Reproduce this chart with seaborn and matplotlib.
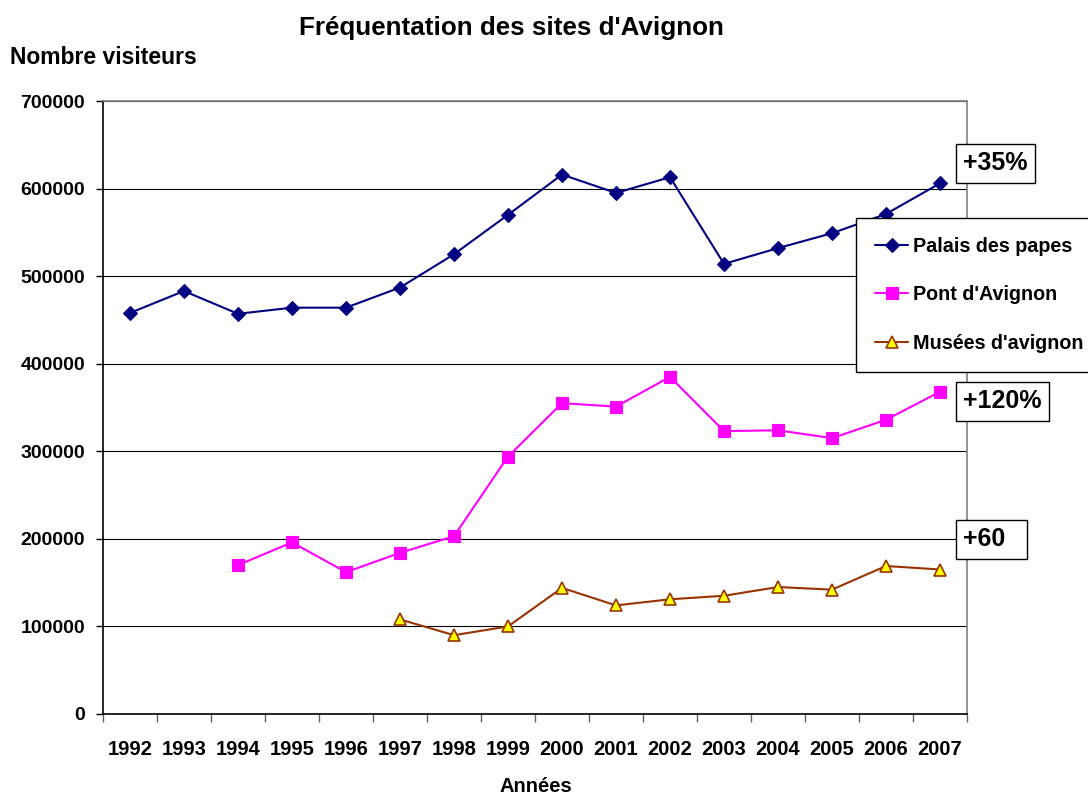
import seaborn as sns
import pandas as pd
import numpy as np
import matplotlib.pyplot as plt

years = list(range(1992, 2008))
palais = [458000, 483000, 457000, 464000, 464000, 487000, 525000, 570000,
          616000, 595000, 613000, 514000, 532000, 549000, 571000, 606000]
pont = [np.nan, np.nan, 170000, 196000, 162000, 184000, 203000, 294000,
        355000, 351000, 385000, 323000, 324000, 315000, 336000, 368000]
musees = [np.nan, np.nan, np.nan, np.nan, np.nan, 108000, 90000, 100000,
          144000, 124000, 131000, 135000, 145000, 142000, 169000, 165000]
series_names = ["Palais des papes", "Pont d'Avignon", "Musées d'avignon"]
growth_labels = ["+35%", "+120%", "+60  "]

df = pd.DataFrame({"Année": years, series_names[0]: palais,
                   series_names[1]: pont, series_names[2]: musees})

sns.set_style("white")
plt.rcParams['font.family'] = ['Liberation Sans', 'DejaVu Sans']
plt.rcParams['font.weight'] = 'bold'
plt.rcParams['text.color'] = 'black'
plt.rcParams['xtick.color'] = 'black'
plt.rcParams['ytick.color'] = 'black'

fig = plt.figure(figsize=(10.88, 7.94), dpi=100)
ax = fig.add_axes([103 / 1088, 1 - 714 / 794, 864 / 1088, 613 / 794])

# one call per series so each keeps its own marker look
sns.lineplot(data=df, x="Année", y=series_names[0], ax=ax, color="#000080",
             marker="D", markersize=7, markeredgecolor="#000080",
             markeredgewidth=0.8, linewidth=1.5, estimator=None, errorbar=None)
sns.lineplot(data=df, x="Année", y=series_names[1], ax=ax, color="#FF00FF",
             marker="s", markersize=8, markeredgecolor="#FF00FF",
             markeredgewidth=0.8, linewidth=1.5, estimator=None, errorbar=None)
sns.lineplot(data=df, x="Année", y=series_names[2], ax=ax, color="#993300",
             marker="^", markersize=8, markerfacecolor="#FFFF00",
             markeredgecolor="#993300", markeredgewidth=1.2, linewidth=1.5,
             estimator=None, errorbar=None)

ax.set_xlim(1991.5, 2007.5)
ax.set_ylim(0, 700000)
yt = list(range(0, 700001, 100000))
ax.set_yticks(yt)
ax.set_yticklabels([str(v) for v in yt], fontsize=14, fontweight='bold')
ax.set_xticks([y - 0.5 for y in years] + [2007.5])
ax.set_xticklabels([])
ax.set_xticks(years, minor=True)
ax.set_xticklabels([str(y) for y in years], minor=True, fontsize=14.5,
                   fontweight='bold')
ax.tick_params(axis='x', which='major', direction='out', length=6, width=1,
               color='#606060', bottom=True)
ax.tick_params(axis='x', which='minor', length=0, pad=19)
ax.tick_params(axis='y', direction='out', length=5, width=1, color='black',
               left=True, pad=8)
ax.grid(axis='y', color='black', linewidth=0.8)
ax.set_axisbelow(True)

for s in ['left', 'bottom']:
    ax.spines[s].set_color('black')
    ax.spines[s].set_linewidth(1.2)
for s in ['top', 'right']:
    ax.spines[s].set_color('#808080')
    ax.spines[s].set_linewidth(1.2)

ax.set_xlabel("")
ax.set_ylabel("")
fig.text(536 / 1088, 1 - 786 / 794, "Années", ha='center', va='center',
         fontsize=14.5, fontweight='bold')
fig.text(10 / 1088, 1 - 57 / 794, "Nombre visiteurs", ha='left', va='center',
         fontsize=16.5, fontweight='bold')
fig.text(511 / 1088, 1 - 28 / 794, "Fréquentation des sites d'Avignon",
         ha='center', va='center', fontsize=18.7, fontweight='bold')

# growth boxes on the right edge
box_pos = [(963, 163), (963, 401), (963, 539)]
for (bx, by), txt in zip(box_pos, growth_labels):
    fig.text(bx / 1088, 1 - by / 794, txt, ha='left', va='center',
             fontsize=18, fontweight='bold',
             bbox=dict(boxstyle='square,pad=0.3', facecolor='white',
                       edgecolor='black', linewidth=1))

leg = fig.legend(handles=ax.lines[:3], labels=series_names, loc='upper left',
                 bbox_to_anchor=(856 / 1088, 1 - 218 / 794), borderaxespad=0,
                 prop={'weight': 'bold', 'size': 14.2},
                 frameon=True, fancybox=False, framealpha=1,
                 edgecolor='black', labelspacing=1.5, borderpad=0.95,
                 handlelength=1.7, handletextpad=0.25)
leg.get_frame().set_linewidth(1)

plt.savefig('out.png', dpi=100)
